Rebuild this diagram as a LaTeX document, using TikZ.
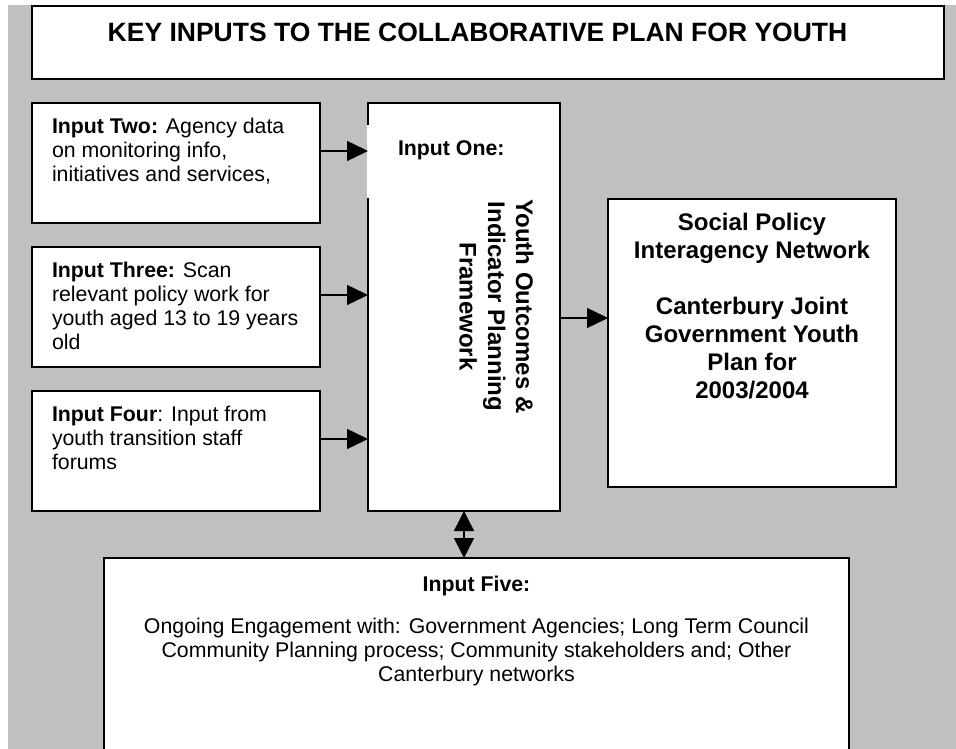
\documentclass[tikz,border=0pt]{standalone}
\usepackage{fontspec}
\setmainfont{Liberation Sans}
\usetikzlibrary{arrows.meta}
\definecolor{bggray}{HTML}{C0C0C0}
\begin{document}
\begin{tikzpicture}[x=1pt,y=-1pt,
  box/.style={draw=black, line width=1.8pt, fill=white, inner sep=0pt, outer sep=0pt},
  txt/.style={inner sep=0pt, outer sep=0pt, font=\fontsize{21.3}{24.3}\selectfont},
  txtb/.style={inner sep=0pt, outer sep=0pt, font=\fontsize{21.3}{24.3}\selectfont\bfseries},
  big/.style={inner sep=0pt, outer sep=0pt, font=\fontsize{24}{28}\selectfont\bfseries},
  arr/.style={line width=1.4pt, -{Triangle[length=21pt,width=20pt]}},
  darr/.style={line width=1.4pt, {Triangle[length=20pt,width=20pt]}-{Triangle[length=20pt,width=20pt]}},
]
\useasboundingbox (0,0) rectangle (956,749);
\fill[bggray] (8,5) rectangle (956,749);

% boxes
\node[box, minimum width=912pt, minimum height=73pt] (title) at (488,42.5) {};
\node[box, minimum width=288pt, minimum height=120pt] (in2) at (176,163) {};
\node[box, minimum width=288pt, minimum height=120pt] (in3) at (176,307) {};
\node[box, minimum width=288pt, minimum height=120pt] (in4) at (176,451) {};
\node[box, minimum width=192pt, minimum height=408pt] (main) at (464,307) {};
\node[box, minimum width=288pt, minimum height=288pt] (right) at (752,343) {};
\node[box, minimum width=745pt, minimum height=212pt] (in5) at (476.5,664) {};

% white text frame covering part of the main box's left border
\fill[white] (366.5,125) rectangle (400,198);

% texts (multi-line nodes: base anchor = baseline of the last line)
\node[inner sep=0pt, font=\fontsize{26.5}{30}\selectfont\bfseries, anchor=base] (ttl) at (477.5,42) {KEY INPUTS TO THE COLLABORATIVE PLAN FOR YOUTH};

\node[txt, anchor=base west, align=left] (t2) at (52,181.6) {\textbf{Input Two:} Agency data\\on monitoring info,\\initiatives and services,};
\node[txt, anchor=base west, align=left] (t3) at (52,349.9) {\textbf{Input Three:} Scan\\relevant policy work for\\youth aged 13 to 19 years\\old};
\node[txt, anchor=base west, align=left] (t4) at (52,469.6) {\textbf{Input Four}: Input from\\youth transition staff\\forums};

\node[txtb, anchor=base west] (t1) at (398,156) {Input One:};
\node[big, rotate=-90, anchor=base] (y1) at (516,306.5) {Youth Outcomes \&};
\node[big, rotate=-90, anchor=base] (y2) at (488,306.5) {Indicator Planning};
\node[big, rotate=-90, anchor=base] (y3) at (459.5,306.5) {Framework};

\node[big, anchor=base, align=center] (tr) at (752,398) {Social Policy\\Interagency Network\\[28pt]Canterbury Joint\\Government Youth\\Plan for\\2003/2004};

\node[txtb, anchor=base] (t5h) at (476.5,591) {Input Five:};
\node[txt, anchor=base, align=center] (t5) at (476.5,681.6) {Ongoing Engagement with: Government Agencies; Long Term Council\\Community Planning process; Community stakeholders and; Other\\Canterbury networks};

% connectors
\draw[arr] ([yshift=12pt]in2.east) -- ([yshift=12pt]in2.east -| main.west);
\draw[arr] ([yshift=12pt]in3.east) -- ([yshift=12pt]in3.east -| main.west);
\draw[arr] ([yshift=12pt]in4.east) -- ([yshift=12pt]in4.east -| main.west);
\draw[arr] ([yshift=-11pt]main.east) -- ([yshift=-11pt]main.east -| right.west);
\draw[darr] (main.south) -- (main.south |- in5.north);
\end{tikzpicture}
\end{document}
